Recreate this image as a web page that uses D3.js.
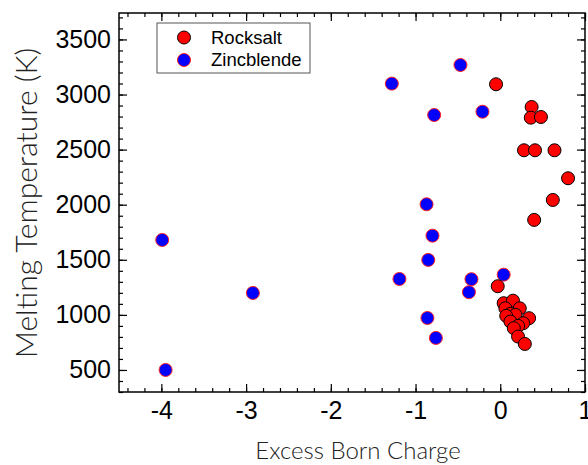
<!DOCTYPE html>
<html>
<head>
<meta charset="utf-8">
<script src="https://cdn.jsdelivr.net/npm/d3@7"></script>
<style>
  body { margin: 0; background: #fff; }
  svg { display: block; }
</style>
</head>
<body>
<svg id="chart" width="588" height="465"></svg>
<script>
// data
const rocksaltX = [-0.05, 0.37, 0.36, 0.48, 0.28, 0.41, 0.64, 0.80, 0.62, 0.40, -0.03,
  0.04, 0.15, 0.06, 0.23, 0.12, 0.18, 0.07, 0.34, 0.12, 0.27, 0.21, 0.16, 0.21, 0.29];
const rocksaltY = [3093, 2887, 2790, 2796, 2494, 2494, 2494, 2240, 2043, 1862, 1260,
  1106, 1129, 1060, 1060, 1009, 1000, 991, 970, 939, 924, 900, 879, 803, 736];

const zincX = [-3.95, -3.99, -2.92, -1.28, -0.47, -0.78, -0.21, -0.87, -0.80, -0.85,
  -1.19, -0.34, -0.37, 0.04, -0.86, -0.76];
const zincY = [500, 1680, 1199, 3099, 3268, 2814, 2844, 2004, 1719, 1499,
  1326, 1324, 1206, 1365, 972, 791];

const xTicks = [-4, -3, -2, -1, 0, 1];
const yTicks = [500, 1000, 1500, 2000, 2500, 3000, 3500];
const legendLabels = ["Rocksalt", "Zincblende"];

const svg = d3.select("#chart"),
  x0 = 119, x1 = 585, y0 = 13, y1 = 392,
  r = 6.5;

const x = d3.scaleLinear().domain([-4.5, 1]).range([x0, x1]);
const y = d3.scaleLinear().domain([300, 3740]).range([y1, y0]);

const xMinor = d3.range(-4.4, 1.001, 0.2).map(v => +v.toFixed(1));
const yMinor = d3.range(300, 3740, 100);

const tickFont = "'Liberation Sans', Arial, sans-serif";

function styleAxis(g) {
  g.select(".domain").remove();
  g.selectAll("line").attr("stroke", "#000").attr("stroke-width", 1.2);
  g.selectAll("text")
    .attr("font-family", tickFont)
    .attr("font-size", 25)
    .attr("fill", "#000")
    .text(function() { return d3.select(this).text().replace("−", "-"); });
}

// minor ticks, all four sides
svg.append("g").attr("transform", `translate(0,${y1})`)
  .call(d3.axisBottom(x).tickValues(xMinor).tickSize(-4).tickFormat(""))
  .call(styleAxis);
svg.append("g").attr("transform", `translate(0,${y0})`)
  .call(d3.axisTop(x).tickValues(xMinor).tickSize(-4).tickFormat(""))
  .call(styleAxis);
svg.append("g").attr("transform", `translate(${x0},0)`)
  .call(d3.axisLeft(y).tickValues(yMinor).tickSize(-4).tickFormat(""))
  .call(styleAxis);
svg.append("g").attr("transform", `translate(${x1},0)`)
  .call(d3.axisRight(y).tickValues(yMinor).tickSize(-4).tickFormat(""))
  .call(styleAxis);

// major ticks
svg.append("g").attr("transform", `translate(0,${y1})`)
  .call(d3.axisBottom(x).tickValues(xTicks).tickSize(-8).tickPadding(9).tickFormat(d3.format("d")))
  .call(styleAxis);
svg.append("g").attr("transform", `translate(0,${y0})`)
  .call(d3.axisTop(x).tickValues(xTicks).tickSize(-8).tickFormat(""))
  .call(styleAxis);
svg.append("g").attr("transform", `translate(${x0},0)`)
  .call(d3.axisLeft(y).tickValues(yTicks).tickSize(-8).tickPadding(8).tickFormat(d3.format("d")))
  .call(styleAxis);
svg.append("g").attr("transform", `translate(${x1},0)`)
  .call(d3.axisRight(y).tickValues(yTicks).tickSize(-8).tickFormat(""))
  .call(styleAxis);

// frame
svg.append("rect")
  .attr("x", x0).attr("y", y0)
  .attr("width", x1 - x0).attr("height", y1 - y0)
  .attr("fill", "none").attr("stroke", "#000").attr("stroke-width", 1.5);

// points
svg.append("g").selectAll("circle")
  .data(zincX.map((v, i) => [v, zincY[i]]))
  .join("circle")
  .attr("cx", d => x(d[0])).attr("cy", d => y(d[1])).attr("r", r)
  .attr("fill", "#0000ff").attr("stroke", "#ff2020").attr("stroke-width", 1);

svg.append("g").selectAll("circle")
  .data(rocksaltX.map((v, i) => [v, rocksaltY[i]]))
  .join("circle")
  .attr("cx", d => x(d[0])).attr("cy", d => y(d[1])).attr("r", r)
  .attr("fill", "#ff0000").attr("stroke", "#000").attr("stroke-width", 1);

// legend
const lg = svg.append("g");
lg.append("rect")
  .attr("x", 157).attr("y", 23).attr("width", 153).attr("height", 50)
  .attr("fill", "#fff").attr("stroke", "#555").attr("stroke-width", 1);
const legendStyle = [
  { fill: "#ff0000", stroke: "#000" },
  { fill: "#0000ff", stroke: "#ff2020" }
];
legendLabels.forEach((lab, i) => {
  const cy = 37.5 + i * 22.5;
  lg.append("circle").attr("cx", 184).attr("cy", cy).attr("r", r)
    .attr("fill", legendStyle[i].fill).attr("stroke", legendStyle[i].stroke);
  lg.append("text").attr("x", 211).attr("y", cy).attr("dy", "0.35em")
    .attr("font-family", tickFont).attr("font-size", 18.5).text(lab);
});

// axis titles
const titleFont = "Lato, 'Open Sans', sans-serif";
svg.append("text")
  .attr("x", 358).attr("y", 459)
  .attr("text-anchor", "middle")
  .attr("font-family", titleFont).attr("font-weight", 300)
  .attr("font-size", 24).attr("fill", "#222")
  .text("Excess Born Charge");

svg.append("text")
  .attr("transform", `translate(37,203) rotate(-90)`)
  .attr("text-anchor", "middle")
  .attr("font-family", titleFont).attr("font-weight", 300)
  .attr("font-size", 30).attr("fill", "#222")
  .text("Melting Temperature (K)");
</script>
</body>
</html>
